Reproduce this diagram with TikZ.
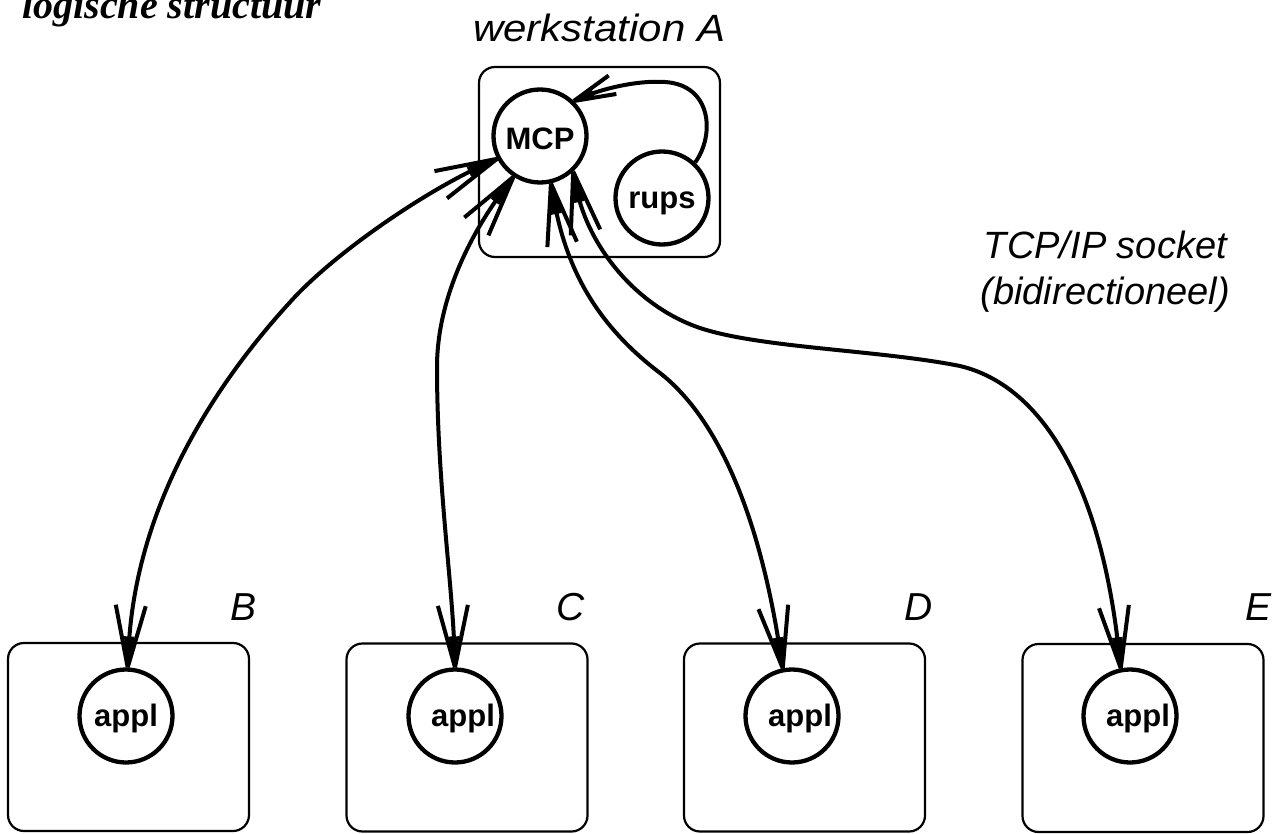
\documentclass[tikz,border=0pt]{standalone}
\usepackage{fontspec}
\setmainfont{Liberation Serif}
\setsansfont{Liberation Sans}
\usetikzlibrary{arrows.meta}

% Long open barb with a narrow filled spike at its point
\pgfdeclarearrow{
  name = Spear,
  parameters = {\the\pgfarrowlength,\the\pgfarrowwidth},
  setup code = {
    \pgfarrowssettipend{0pt}
    \pgfarrowssetlineend{-.3\pgfarrowlength}
    \pgfarrowssetvisualbackend{-\pgfarrowlength}
    \pgfarrowssetbackend{-\pgfarrowlength}
    \pgfarrowsupperhullpoint{-\pgfarrowlength}{.5\pgfarrowwidth}
    \pgfarrowsupperhullpoint{0pt}{0pt}
    \pgfarrowssavethe\pgfarrowlength
    \pgfarrowssavethe\pgfarrowwidth
  },
  drawing code = {
    \pgfsetdash{}{0pt}
    \pgfsetlinewidth{4pt}
    \pgfsetbuttcap
    \pgfpathmoveto{\pgfqpoint{0pt}{0pt}}
    \pgfpathlineto{\pgfpoint{-.5\pgfarrowlength}{.18\pgfarrowwidth}}
    \pgfpathlineto{\pgfpoint{-.5\pgfarrowlength}{-.18\pgfarrowwidth}}
    \pgfpathclose
    \pgfusepathqfill
    \pgfpathmoveto{\pgfpoint{-\pgfarrowlength}{.5\pgfarrowwidth}}
    \pgfpathlineto{\pgfqpoint{0pt}{0pt}}
    \pgfpathmoveto{\pgfpoint{-\pgfarrowlength}{-.5\pgfarrowwidth}}
    \pgfpathlineto{\pgfqpoint{0pt}{0pt}}
    \pgfusepathqstroke
  },
  defaults = {length = 62pt, width = 30pt}
}

\tikzset{
  wbox/.style={draw, line width=2.2pt, rounded corners=16pt, inner sep=0pt,
               minimum width=241pt, minimum height=188pt},
  proc/.style={circle, draw, line width=4.3pt, minimum size=93pt, inner sep=0pt,
               text depth=0pt, font=\sffamily\bfseries\fontsize{31}{31}\selectfont},
  conn/.style={line width=4pt, arrows={Spear[]-Spear[]}},
  lbl/.style={inner sep=0pt, font=\sffamily\itshape\fontsize{38}{38}\selectfont},
  hostlbl/.style={inner sep=0pt, anchor=base east,
                  font=\sffamily\itshape\fontsize{39}{39}\selectfont},
}

\begin{document}
\begin{tikzpicture}[x=1pt,y=-1pt]
\useasboundingbox (0,0) rectangle (1282,834);

% title
\node[inner sep=0pt, anchor=base west,
      font=\rmfamily\bfseries\itshape\fontsize{40}{40}\selectfont]
  (title) at (22,19) {logische structuur};

% workstation A with the master control process and rups
\node[wbox, minimum height=190pt] (wsA) at (599.5,162) {};
\node[lbl, anchor=base west] (wsAlbl) at (473,42)
  {\resizebox{252pt}{\height}{werkstation A}};
\node[proc, text height=28pt] (mcp) at (540,136) {MCP};
\node[proc, text height=22pt] (rups) at (662,198) {rups};

% hosts B..E with their applications
\node[wbox] (hB) at (128.5,737) {};
\node[wbox] (hC) at (467,737.5) {};
\node[wbox] (hD) at (804.5,737.5) {};
\node[wbox] (hE) at (1143,738) {};

\node[hostlbl] (lB) at (257,620) {B};
\node[hostlbl] (lC) at (585,620) {C};
\node[hostlbl] (lD) at (933,620) {D};
\node[hostlbl] (lE) at (1272,620) {E};

\node[proc, text height=20pt] (applB) at (126,716) {appl};
\node[proc, text height=20pt] (applC) at (455,716) {\kern16pt appl};
\node[proc, text height=20pt] (applD) at (792,716) {\kern16pt appl};
\node[proc, text height=20pt] (applE) at (1130,716) {\kern16pt appl};

% socket caption
\node[lbl, anchor=base east] (sock1) at (1227,259) {TCP/IP socket};
\node[lbl, anchor=base east] (sock2) at (1230,305) {(bidirectioneel)};

% rups reports to the MCP
\draw[line width=4pt, -{Spear[length=42pt,width=20pt]}]
  (rups.47) .. controls (715,135) and (712,85) .. (665,82)
            .. controls (635,80) and (600,90) .. (mcp.46);

% bidirectional sockets between the MCP and the applications
\draw[conn] (mcp.208) .. controls (425,192) and (337,251) .. (292,300)
                      .. controls (200,400) and (135,520) .. (applB.88);
\draw[conn] (mcp.237) .. controls (470,235) and (437,300) .. (437,367)
                      .. controls (437,480) and (452,580) .. (applC.north);
\draw[conn] (mcp.283) .. controls (565,260) and (590,320) .. (660,373)
                      .. controls (720,420) and (760,520) .. (applD.101);
\draw[conn] (mcp.313) .. controls (588,245) and (635,306) .. (700,328)
                      .. controls (760,348) and (880,350) .. (960,366)
                      .. controls (1040,385) and (1100,480) .. (applE.101);
\end{tikzpicture}
\end{document}
